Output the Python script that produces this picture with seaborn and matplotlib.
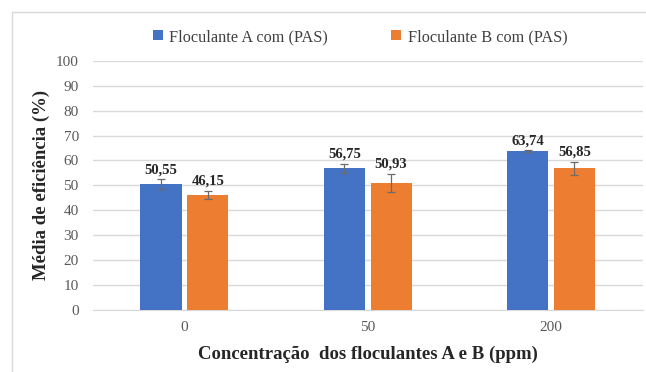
import pandas as pd
import numpy as np
import matplotlib
matplotlib.use("Agg")
import matplotlib.pyplot as plt
import seaborn as sns
from matplotlib.lines import Line2D

# Data
concentracoes = ["0", "50", "200"]
serie_a = [50.55, 56.75, 63.74]
serie_b = [46.15, 50.93, 56.85]
erro_a = [2.0, 2.0, 0.3]
erro_b = [1.7, 3.8, 2.7]
nomes = ["Floculante A com (PAS)", "Floculante B com (PAS)"]
cores = ["#4472C4", "#ED7D31"]

df = pd.DataFrame({
    "conc": concentracoes * 2,
    "valor": serie_a + serie_b,
    "serie": [nomes[0]] * 3 + [nomes[1]] * 3,
})

# Style
sns.set_style("white")
plt.rcParams["font.family"] = ["Liberation Serif", "DejaVu Serif"]

fig = plt.figure(figsize=(6.46, 3.72), dpi=100)
ax = fig.add_axes([92.7 / 646, 0.168, 550 / 646, 0.668])

sns.barplot(data=df, x="conc", y="valor", hue="serie", palette=cores,
            width=0.51, gap=0.12, errorbar=None, legend=True, ax=ax,
            linewidth=0, saturation=1, zorder=3)

# error bars + value labels
for cont, vals, errs in zip(ax.containers, [serie_a, serie_b], [erro_a, erro_b]):
    xs = [p.get_x() + p.get_width() / 2 for p in cont.patches]
    ax.errorbar(xs, vals, yerr=errs, fmt="none", ecolor="#6b6b6b",
                elinewidth=0.9, capsize=3, capthick=0.9, zorder=4)
    for x, v, e in zip(xs, vals, errs):
        ax.annotate(f"{v:.2f}".replace(".", ","), (x, v + e), xytext=(0, 2),
                    textcoords="offset points", ha="center", va="bottom",
                    fontsize=10.5, fontweight="bold", color="#262626")

ax.set_xlim(-0.5, len(concentracoes) - 0.5)
ax.set_ylim(0, 100)
ax.set_yticks(np.arange(0, 101, 10))
ax.grid(axis="y", color="#d9d9d9", linewidth=1, zorder=0)
ax.set_axisbelow(True)
for s in ["left", "right", "top"]:
    ax.spines[s].set_visible(False)
ax.spines["bottom"].set_color("#d9d9d9")
ax.tick_params(axis="both", length=0, labelsize=11, labelcolor="#595959")
ax.tick_params(axis="y", pad=10)
ax.tick_params(axis="x", pad=8)

ax.set_xlabel("Concentração  dos floculantes A e B (ppm)", fontsize=13.5,
              fontweight="bold", color="#262626", labelpad=9)
ax.set_ylabel("Média de eficiência (%)", fontsize=13.5, fontweight="bold",
              color="#262626", labelpad=4)

ax.legend(loc="center", bbox_to_anchor=(360 / 646, 1 - 37 / 372),
          bbox_transform=fig.transFigure, ncol=2, frameon=False,
          fontsize=11.7, handlelength=0.6, handleheight=0.6, handletextpad=0.4,
          columnspacing=3.9, labelcolor="#404040")

# chart frame (cropped)
fig.add_artist(Line2D([12 / 646, 12 / 646], [0, 1 - 12 / 372],
                      transform=fig.transFigure, color="#d9d9d9", lw=1))
fig.add_artist(Line2D([12 / 646, 1], [1 - 12 / 372, 1 - 12 / 372],
                      transform=fig.transFigure, color="#d9d9d9", lw=1))

fig.savefig("out.png", dpi=100)
